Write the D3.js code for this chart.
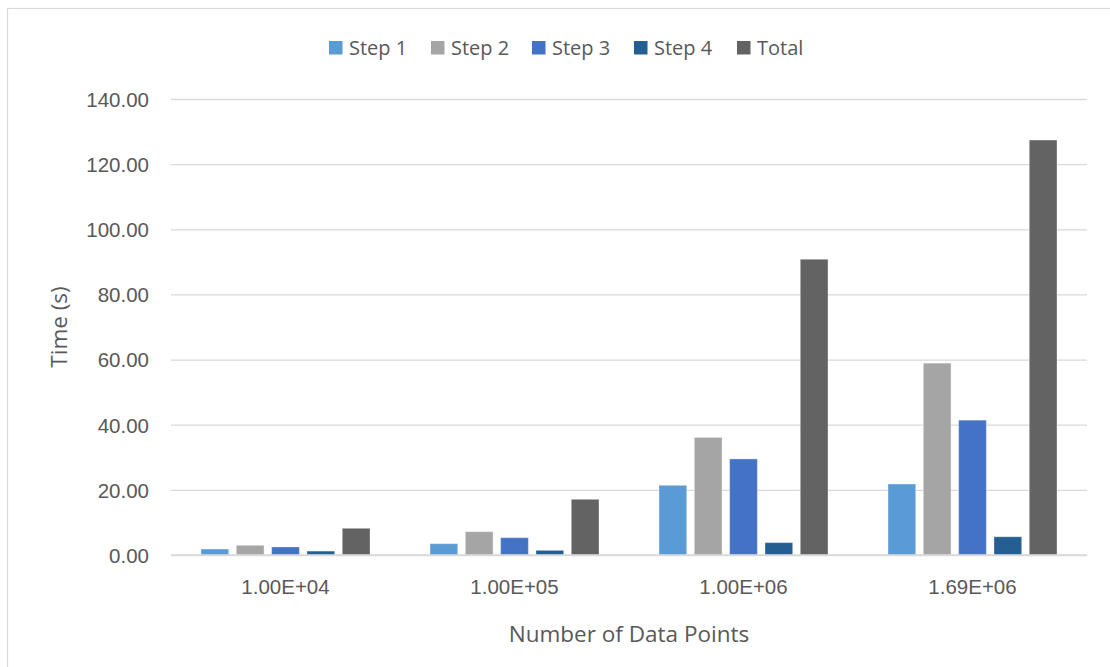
<!DOCTYPE html>
<html>
<head>
<meta charset="utf-8">
<script src="https://cdn.jsdelivr.net/npm/d3@7"></script>
<style>
  html, body { margin: 0; padding: 0; background: #fff; }
  svg { display: block; font-family: "Open Sans", "Noto Sans", sans-serif; }
</style>
</head>
<body>
<svg id="chart" width="1110" height="667"></svg>
<script>
// Run time per processing step, by data set size
const categories = ["1.00E+04", "1.00E+05", "1.00E+06", "1.69E+06"];
const seriesNames = ["Step 1", "Step 2", "Step 3", "Step 4", "Total"];
const step1 = [1.84, 3.47, 21.4, 21.8];
const step2 = [2.97, 7.16, 36.1, 58.9];
const step3 = [2.46, 5.32, 29.5, 41.4];
const step4 = [1.20, 1.43, 3.8, 5.6];
const total = [8.2, 17.1, 90.8, 127.4];
const yTicks = [0, 20, 40, 60, 80, 100, 120, 140];
const colors = ["#5B9BD5", "#A5A5A5", "#4472C4", "#255E91", "#636363"];

const seriesValues = [step1, step2, step3, step4, total];
const rows = categories.map((c, i) => ({
  category: c,
  values: seriesNames.map((s, k) => ({ series: s, value: seriesValues[k][i], color: colors[k] }))
}));

const svg = d3.select("#chart");
const textColor = "#595959";
const gridColor = "#D9D9D9";

// Chart frame
svg.append("rect")
  .attr("x", 7.5).attr("y", 8.5)
  .attr("width", 1200).attr("height", 800)
  .attr("fill", "none").attr("stroke", gridColor).attr("stroke-width", 1.2);

const plot = { left: 171, right: 1087, top: 99, bottom: 555 };

const y = d3.scaleLinear().domain([0, 140]).range([plot.bottom, plot.top]);
const x0 = d3.scaleBand().domain(categories)
  .range([plot.left, plot.right])
  .paddingInner(0.262).paddingOuter(0.131);
const x1 = d3.scaleBand().domain(seriesNames)
  .range([0, x0.bandwidth()])
  .paddingInner(0.215).paddingOuter(0);

// Gridlines and value labels
const yAxis = d3.axisLeft(y).tickValues(yTicks)
  .tickFormat(d3.format(".2f"))
  .tickSize(-(plot.right - plot.left)).tickPadding(22);
const gy = svg.append("g")
  .attr("transform", `translate(${plot.left},0)`)
  .call(yAxis);
gy.select(".domain").remove();
gy.selectAll(".tick line").attr("stroke", gridColor).attr("stroke-width", 1.3);
gy.selectAll(".tick text")
  .attr("fill", textColor).attr("font-size", 20.5)
  .attr("dy", "0.36em");

// Bars
const groups = svg.append("g").selectAll("g")
  .data(rows).join("g")
  .attr("transform", d => `translate(${x0(d.category)},0)`);
groups.selectAll("rect")
  .data(d => d.values).join("rect")
  .attr("x", d => x1(d.series))
  .attr("width", x1.bandwidth())
  .attr("y", d => y(d.value))
  .attr("height", d => y(0) - y(d.value))
  .attr("fill", d => d.color)
  .attr("stroke", "#ffffff").attr("stroke-opacity", 0.35).attr("stroke-width", 1);

// Category axis
const xAxis = d3.axisBottom(x0).tickSize(0).tickPadding(24);
const gx = svg.append("g")
  .attr("transform", `translate(0,${plot.bottom})`)
  .call(xAxis);
gx.select(".domain").attr("stroke", gridColor).attr("stroke-width", 1.6)
  .attr("d", `M${plot.left},0H${plot.right}`);
gx.selectAll(".tick text").attr("fill", textColor).attr("font-size", 20.5);

// Axis titles
svg.append("text")
  .attr("x", (plot.left + plot.right) / 2 + 0).attr("y", 642)
  .attr("text-anchor", "middle")
  .attr("fill", textColor).attr("font-size", 22.5)
  .text("Number of Data Points");
svg.append("text")
  .attr("transform", `translate(67,${(plot.top + plot.bottom) / 2}) rotate(-90)`)
  .attr("text-anchor", "middle")
  .attr("fill", textColor).attr("font-size", 22.5)
  .text("Time (s)");

// Legend
const legendX = [329, 431, 532, 634, 737];
const legend = svg.append("g").selectAll("g")
  .data(seriesNames).join("g")
  .attr("transform", (d, i) => `translate(${legendX[i]},41)`);
legend.append("rect")
  .attr("width", 13.5).attr("height", 13.5)
  .attr("fill", (d, i) => colors[i]);
legend.append("text")
  .attr("x", 20).attr("y", 13.5)
  .attr("fill", textColor).attr("font-size", 20)
  .text(d => d);
</script>
</body>
</html>
